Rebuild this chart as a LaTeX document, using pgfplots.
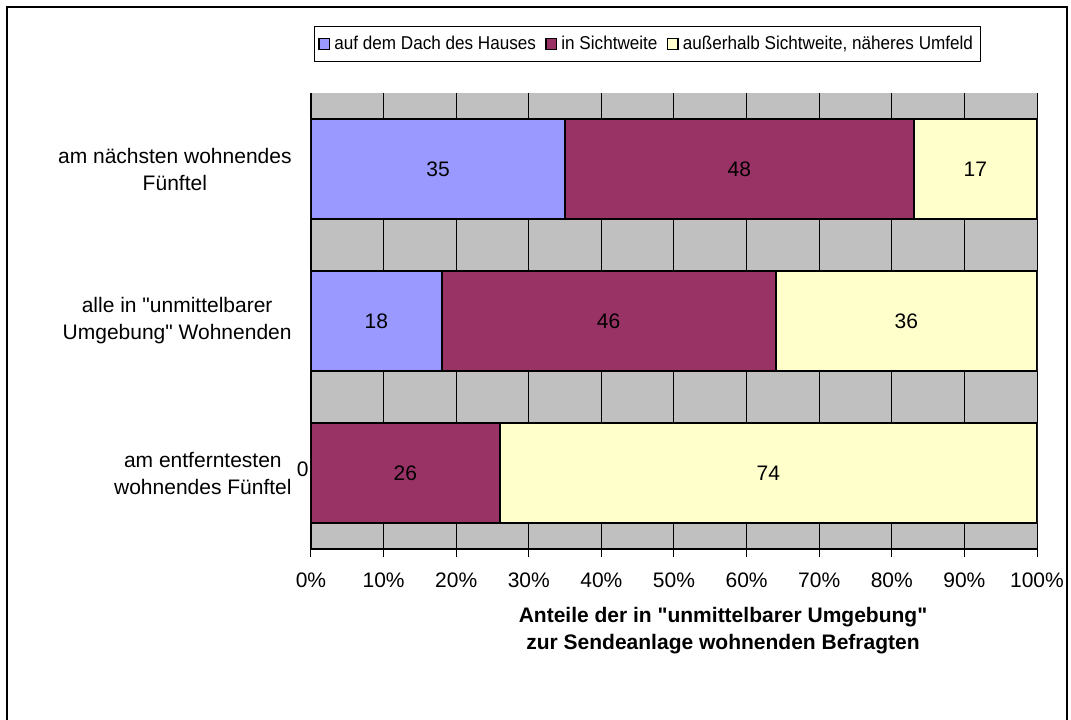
\documentclass[border=0pt]{standalone}
\usepackage{graphicx}
\usepackage{pgfplots}
\pgfplotsset{compat=1.18}
\usepackage{fontspec}
\setmainfont{Liberation Sans}[Ligatures=TeXOff]
\definecolor{cblue}{HTML}{9999FF}
\definecolor{cmaroon}{HTML}{993366}
\definecolor{cyellow}{HTML}{FFFFCC}
\definecolor{cgray}{HTML}{C0C0C0}
\newcommand\cf{\fontsize{10.5}{13.5}\selectfont}
\newcommand\lf{\fontsize{9.3}{11}\selectfont}
\newcommand\legtxt[1]{\scalebox{0.92}[1]{#1}}
\begin{document}
\cf
\begin{tikzpicture}[x=1pt,y=1pt]
\useasboundingbox (-155.5,-85) rectangle (380,274.5);
\draw[line width=1pt] (-151.75,-90) -- (-151.75,270.75) -- (377.75,270.75) -- (377.75,-90);
\begin{axis}[
  at={(0,0)}, anchor=south west,
  scale only axis, width=363pt, height=228pt,
  xmin=0, xmax=100, ymin=-0.5, ymax=2.5,
  xbar stacked, bar width=50pt,
  axis background/.style={fill=cgray},
  axis x line*=bottom, axis y line*=left,
  axis line style={line width=0.8pt, -},
  xtick={0,10,...,100},
  xticklabel={\pgfmathprintnumber{\tick}\%},
  xticklabel style={font=\cf, yshift=-4pt},
  /pgf/number format/assume math mode=true,
  xmajorgrids, major grid style={black, line width=0.5pt},
  tick align=outside, major tick length=4pt,
  tick style={black, line width=0.5pt},
  ytick={0,1,2},
  yticklabels={{am entferntesten\\wohnendes Fünftel},{alle in "unmittelbarer\\Umgebung" Wohnenden},{am nächsten wohnendes\\Fünftel}},
  yticklabel style={align=center, font=\cf, xshift=-2pt},
  y tick style={draw=none},
  minor ytick={-0.5,0.5,1.5,2.5},
  minor tick length=4pt,
  minor y tick style={black, line width=0.5pt},
  xlabel={Anteile der in "unmittelbarer Umgebung"\\zur Sendeanlage wohnenden Befragten},
  xlabel style={font={\bfseries\cf}, align=center, at={(axis description cs:0.5675,-0.18)}, anchor=center},
  legend columns=3,
  legend style={font=\lf, at={(axis description cs:0.4635,1.1075)}, anchor=center, draw=black, line width=0.5pt, inner xsep=1.5pt, inner ysep=2.5pt, /tikz/every even column/.append style={column sep=2.5pt}},
  legend image code/.code={\draw[#1, draw=black, line width=0.8pt] (0pt,-2.7pt) rectangle (5.4pt,2.7pt);},
]
\addplot[fill=cblue, draw=black, line width=1pt] coordinates {(0,0) (18,1) (35,2)};
\addplot[fill=cmaroon, draw=black, line width=1pt] coordinates {(26,0) (46,1) (48,2)};
\addplot[fill=cyellow, draw=black, line width=1pt] coordinates {(74,0) (36,1) (17,2)};
\legend{\legtxt{auf dem Dach des Hauses}, \legtxt{in Sichtweite}, \legtxt{außerhalb Sichtweite, näheres Umfeld}}
\end{axis}
\begin{axis}[
  at={(0,0)}, anchor=south west,
  scale only axis, width=363pt, height=228pt,
  xmin=0, xmax=100, ymin=-0.5, ymax=2.5,
  hide axis, clip=false,
]
\addplot[only marks, mark=none, nodes near coords, point meta=explicit symbolic, nodes near coords align=center, nodes near coords style={font=\cf}]
  coordinates {(17.5,2)[35] (59,2)[48] (91.5,2)[17] (9,1)[18] (41,1)[46] (82,1)[36] (13,0)[26] (63,0)[74]};
\addplot[only marks, mark=none, nodes near coords, point meta=explicit symbolic, nodes near coords style={font=\cf, anchor=east, inner sep=1pt, yshift=2pt}]
  coordinates {(0,0)[0]};
\end{axis}
\end{tikzpicture}
\end{document}
